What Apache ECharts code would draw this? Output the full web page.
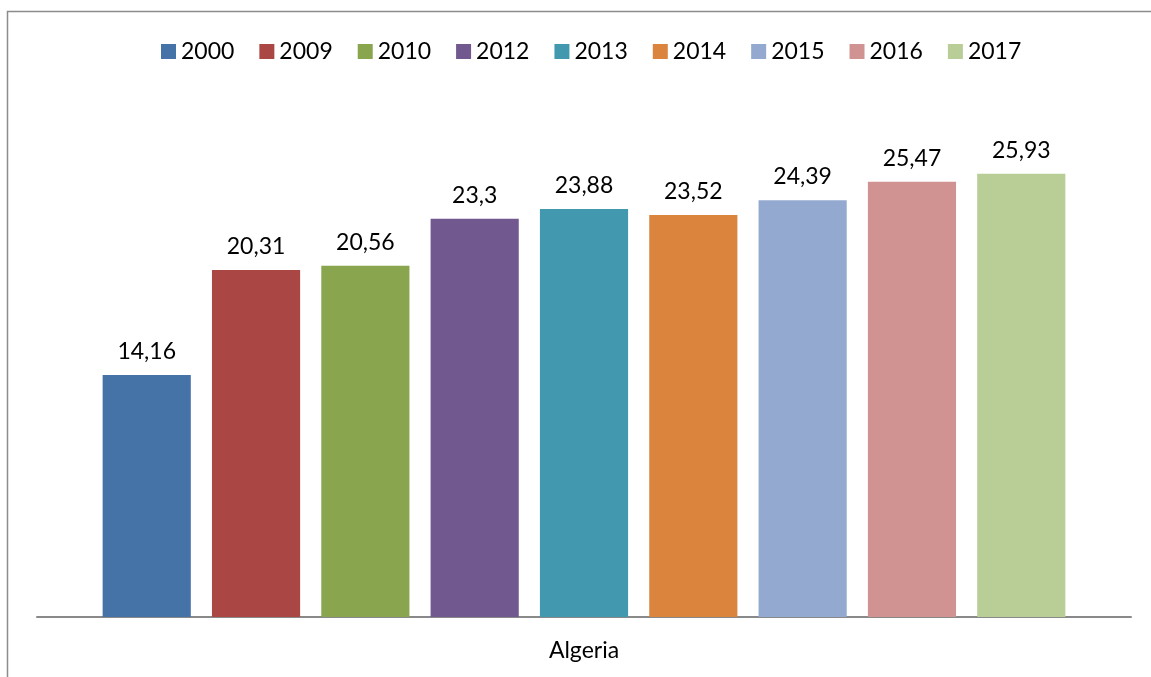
<!DOCTYPE html>
<html>
<head>
<meta charset="utf-8">
<script src="https://cdn.jsdelivr.net/npm/echarts@6/dist/echarts.min.js"></script>
<style>
  html, body { margin: 0; padding: 0; background: #fff; }
  #main { width: 1151px; height: 677px; }
</style>
</head>
<body>
<div id="main"></div>
<script>
// categories / series
var countries = ['Algeria'];
var years = ['2000', '2009', '2010', '2012', '2013', '2014', '2015', '2016', '2017'];
var values = [14.16, 20.31, 20.56, 23.3, 23.88, 23.52, 24.39, 25.47, 25.93];
var colors = ['#4572a7', '#aa4643', '#89a54e', '#71588f', '#4198af', '#db843d', '#93a9cf', '#d19392', '#b9cd96'];

var chart = echarts.init(document.getElementById('main'));

var fontFam = 'Lato, "Open Sans", sans-serif';

var series = years.map(function (y, i) {
  return {
    name: y,
    type: 'bar',
    data: [values[i]],
    itemStyle: { color: colors[i] },
    barGap: '24%',
    barCategoryGap: '12%',
    label: {
      show: true,
      position: 'top',
      distance: 12,
      color: '#000',
      fontSize: 23,
      fontFamily: fontFam,
      formatter: function (p) { return String(p.value).replace('.', ','); }
    }
  };
});

var option = {
  animation: false,
  backgroundColor: '#fff',
  legend: {
    top: 35,
    left: 156,
    itemWidth: 15,
    itemHeight: 15,
    itemGap: 25,
    icon: 'rect',
    textStyle: { fontSize: 23, fontFamily: fontFam, color: '#000' },
    data: years
  },
  grid: {
    left: 37,
    right: 20,
    top: 104.3,
    bottom: 60
  },
  xAxis: {
    type: 'category',
    data: countries,
    axisLine: { lineStyle: { color: '#898989', width: 2 } },
    axisTick: { show: false },
    axisLabel: { fontSize: 23, fontFamily: fontFam, color: '#000', margin: 22 }
  },
  yAxis: {
    type: 'value',
    min: 0,
    max: 30,
    show: false
  },
  graphic: [
    {
      type: 'polyline',
      shape: { points: [[7.5, 677], [7.5, 11.5], [1151, 11.5]] },
      style: { stroke: '#8c8c8c', lineWidth: 1.5, fill: null }
    }
  ],
  series: series
};

chart.setOption(option);
</script>
</body>
</html>
